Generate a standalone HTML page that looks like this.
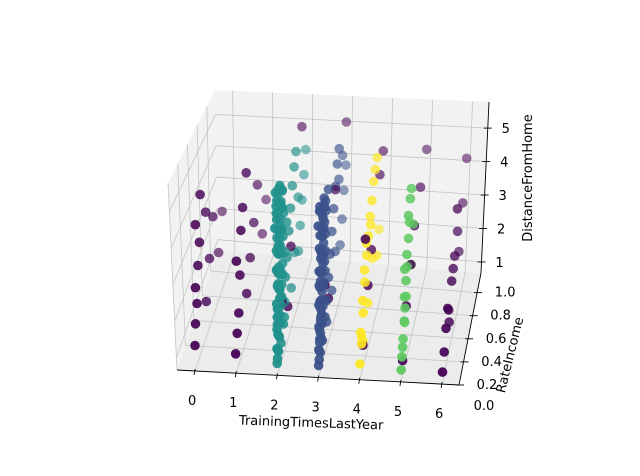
<!DOCTYPE html>
<html><head><meta charset="utf-8"><style>
html,body{margin:0;padding:0;background:#fff;}
svg{display:block;font-family:"DejaVu Sans","Liberation Sans",sans-serif;}
</style></head><body>
<svg id="chart" width="640" height="476" viewBox="0 0 640 476" xmlns="http://www.w3.org/2000/svg">
<g id="panes"></g>
<g id="grid"></g>
<g id="axes"></g>
<g id="pts"></g>
<text x="311" y="427" font-size="13" text-anchor="middle" transform="rotate(2 311 427)">TrainingTimesLastYear</text>
<text x="514" y="356" font-size="13" text-anchor="middle" transform="rotate(-76 514 356)">RateIncome</text>
<text x="532" y="178" font-size="13" text-anchor="middle" transform="rotate(-90 532 178)">DistanceFromHome</text>
</svg>
<script>
const xTicks=[0,1,2,3,4,5,6];
const rTicks=[0.2,0.4,0.6,0.8,1.0];
const rTickLabels=["0.2","0.4","0.6","0.8","1.0"];
const zTicks=[1,2,3,4,5];

const tealR=[0.2,0.22,0.25,0.21,0.27,0.23,0.3,0.26,0.32,0.28,0.35,0.3,0.37,0.33,0.4,0.36,0.24,0.29,0.34,0.38,0.42,0.45,0.5,0.55,0.6,0.65,0.7,0.75,0.8,0.85,0.9,0.95,1.0,0.6,0.7,0.5,0.8,0.45,0.22,0.26,0.31,0.35,0.28,0.25,0.4];
const tealZ=[1.0,1.3,1.6,1.9,2.1,2.4,2.7,2.9,3.2,3.4,3.7,3.9,4.2,4.4,4.7,4.9,5.2,5.4,5.5,1.5,2.0,2.6,3.0,3.6,4.1,4.6,5.0,5.3,2.2,2.8,3.4,4.0,4.6,1.8,2.5,4.0,3.8,3.3,2.2,3.0,1.2,2.3,4.0,4.8,5.2];
const tealR2=[0.21,0.24,0.2,0.27,0.23,0.3,0.22,0.26,0.33,0.25,0.29,0.21,0.35,0.28,0.24,0.31,0.38,0.26,0.22,0.34,0.3,0.27,0.4,0.23,0.32,0.36,0.25,0.29,0.42,0.33,0.2,0.37,0.28,0.24,0.31,0.39,0.26,0.35,0.3,0.22,0.41,0.27,0.34,0.38,0.25,0.32,0.29,0.36,0.23,0.3];
const tealZ2=[1.1,1.2,1.4,1.5,1.7,1.8,2.0,2.1,2.2,2.3,2.5,2.6,2.7,2.8,3.0,3.1,3.2,3.3,3.5,3.6,3.7,3.8,3.9,4.0,4.1,4.2,4.3,4.4,4.5,4.6,4.7,4.8,4.9,5.0,5.1,5.2,5.3,5.4,5.5,1.3,1.6,1.9,2.4,2.9,3.4,3.9,4.4,5.0,5.6,2.0];
const blueR=[0.2,0.23,0.26,0.22,0.28,0.25,0.31,0.27,0.34,0.3,0.36,0.32,0.39,0.35,0.42,0.38,0.45,0.5,0.55,0.6,0.65,0.7,0.75,0.8,0.85,0.9,0.95,1.0,0.24,0.3,0.36,0.28,0.33,0.6,0.7,0.8,0.5,0.45,0.9,0.4];
const blueZ=[1.0,1.3,1.7,2.0,2.3,2.6,2.9,3.1,3.4,3.7,3.9,4.2,4.4,4.6,4.9,5.1,2.0,2.5,3.0,3.5,4.0,4.5,5.0,5.3,2.3,2.9,3.6,4.2,1.5,2.1,2.7,3.3,3.8,1.8,2.6,4.4,5.0,1.4,4.8,3.0];
const blueR2=[0.22,0.25,0.21,0.28,0.24,0.31,0.23,0.27,0.34,0.26,0.3,0.22,0.36,0.29,0.25,0.32,0.39,0.27,0.23,0.35,0.31,0.28,0.41,0.24,0.33,0.37,0.26,0.3,0.43,0.34,0.21,0.38,0.29,0.25,0.32,0.4,0.27,0.36,0.31,0.23,0.42,0.28,0.35,0.39,0.26];
const blueZ2=[1.1,1.2,1.4,1.5,1.6,1.8,1.9,2.1,2.2,2.4,2.5,2.6,2.8,2.9,3.0,3.2,3.3,3.4,3.5,3.6,3.8,3.9,4.0,4.1,4.2,4.3,4.4,4.5,4.6,4.7,4.8,4.9,5.0,5.1,1.3,1.7,2.0,2.3,2.7,3.1,3.5,3.7,4.3,4.8,5.2];
const yellowR=[0.2,0.25,0.22,0.3,0.28,0.35,0.33,0.4,0.45,0.5,0.55,0.6,0.65,0.7,0.75,0.8,0.3,0.45,0.6,0.25,0.38,0.52];
const yellowZ=[1.1,1.5,1.9,2.2,2.6,2.9,3.3,3.5,3.9,4.3,4.6,5.0,5.2,5.4,2.4,3.0,1.4,2.0,2.8,1.7,3.9,4.0];
const greenR=[0.2,0.22,0.25,0.28,0.3,0.27,0.32,0.35,0.33,0.38,0.4,0.36,0.42,0.45,0.3,0.26,0.5,0.55,0.24,0.34];
const greenZ=[1.0,1.3,1.7,2.1,2.4,2.8,3.1,3.4,3.8,4.1,4.5,4.8,5.1,5.3,2.0,3.6,3.0,4.0,1.5,2.6];
const purpleX=[0,0,0,0,0,0,0,0,0,0,0,0,0,0, 1,1,1,1,1,1,1,1,1,1,1,1,1,1, 2,2,2,2, 3,3,3,3, 4,4,4,4,4,4, 5,5,5,5,5,5, 6,6,6,6,6,6,6,6,6,6,6,6,6,6];
const purpleR=[0.22,0.25,0.3,0.28,0.35,0.4,0.33,0.45,0.5,0.6,0.7,0.8,0.9,0.55, 0.2,0.25,0.3,0.35,0.28,0.4,0.45,0.5,0.6,0.7,0.8,0.9,1.0,0.55, 0.35,0.6,0.9,0.5, 0.4,0.7,1.0,0.5, 0.3,0.45,0.55,0.8,0.9,0.35, 0.25,0.35,0.5,0.6,0.8,1.0, 0.2,0.25,0.3,0.35,0.4,0.5,0.6,0.7,0.8,0.9,1.0,0.45,0.55,0.65];
const purpleZ=[1.3,1.8,2.2,2.7,3.1,3.6,4.3,4.8,1.6,2.5,3.4,2.0,2.9,4.0, 1.2,1.6,2.0,2.9,3.5,4.0,4.5,1.9,2.6,3.3,4.1,2.3,3.0,5.2, 2.2,3.0,5.6,1.6, 2.6,4.4,5.5,1.9, 1.3,2.5,3.2,4.6,5.0,4.1, 1.1,2.3,3.0,3.8,4.3,4.8, 1.0,1.4,1.9,2.3,2.1,2.6,3.0,3.4,2.5,3.6,4.6,1.6,2.8,4.2];

const XMIN=-0.44,XMAX=6.41,RMIN=0.2,RMAX=1.17,ZMIN=0.67,ZMAX=5.78;
const FL=[177,370],FR=[459,385],BL=[218,250],BR=[481,273];
const FLt=[168,183],FRt=[466,200],BLt=[215,90],BRt=[489,102];
function bil(a,b,c,d,u,v){
  const x=(a[0]*(1-u)+b[0]*u)*(1-v)+(c[0]*(1-u)+d[0]*u)*v;
  const y=(a[1]*(1-u)+b[1]*u)*(1-v)+(c[1]*(1-u)+d[1]*u)*v;
  return [x,y];
}
function P(x,r,z){
  const u=(x-XMIN)/(XMAX-XMIN),v=(r-RMIN)/(RMAX-RMIN),w=(z-ZMIN)/(ZMAX-ZMIN);
  const b=bil(FL,FR,BL,BR,u,v),t=bil(FLt,FRt,BLt,BRt,u,v);
  return [b[0]+(t[0]-b[0])*w,b[1]+(t[1]-b[1])*w];
}
const NS="http://www.w3.org/2000/svg";
function mk(tag,parent){const e=document.createElementNS(NS,tag);parent.appendChild(e);return e;}
function line(parent,a,b,stroke,sw){
  const l=mk('line',parent);
  l.setAttribute('x1',a[0]);l.setAttribute('y1',a[1]);l.setAttribute('x2',b[0]);l.setAttribute('y2',b[1]);
  l.setAttribute('stroke',stroke);l.setAttribute('stroke-width',sw);
  return l;
}
function poly(parent,pts,fill){
  const p=mk('polygon',parent);
  p.setAttribute('points',pts.map(q=>q.join(',')).join(' '));
  p.setAttribute('fill',fill);
  return p;
}
const panes=document.getElementById('panes');
let pe;
pe=poly(panes,[P(XMIN,RMIN,ZMIN),P(XMAX,RMIN,ZMIN),P(XMAX,RMAX,ZMIN),P(XMIN,RMAX,ZMIN)],'#ececec');


pe=poly(panes,[P(XMIN,RMIN,ZMIN),P(XMIN,RMAX,ZMIN),P(XMIN,RMAX,ZMAX),P(XMIN,RMIN,ZMAX)],'#f2f2f2');


pe=poly(panes,[P(XMIN,RMAX,ZMIN),P(XMAX,RMAX,ZMIN),P(XMAX,RMAX,ZMAX),P(XMIN,RMAX,ZMAX)],'#f2f2f2');



const grid=document.getElementById('grid');
const GC='#c4c4c4';
xTicks.forEach(x=>{
  let g=line(grid,P(x,RMIN,ZMIN),P(x,RMAX,ZMIN),GC,0.8);
  
  
  g=line(grid,P(x,RMAX,ZMIN),P(x,RMAX,ZMAX),GC,0.8);
  
  
});
rTicks.forEach(r=>{
  let g=line(grid,P(XMIN,r,ZMIN),P(XMAX,r,ZMIN),GC,0.8);
  
  
  g=line(grid,P(XMIN,r,ZMIN),P(XMIN,r,ZMAX),GC,0.8);
  
  
});
zTicks.forEach(z=>{
  let g=line(grid,P(XMIN,RMIN,z),P(XMIN,RMAX,z),GC,0.8);
  
  
  g=line(grid,P(XMIN,RMAX,z),P(XMAX,RMAX,z),GC,0.8);
  
  
});

const axes=document.getElementById('axes');
let al;
al=line(axes,P(XMIN,RMIN,ZMIN),P(XMAX,RMIN,ZMIN),'#000',0.9);


al=line(axes,P(XMAX,RMIN,ZMIN),P(XMAX,RMAX,ZMIN),'#000',0.9);


al=line(axes,P(XMAX,RMAX,ZMIN),P(XMAX,RMAX,ZMAX),'#000',0.9);


function label(txt,x,y,anchor,name){
  const t=mk('text',axes);
  t.setAttribute('x',x);t.setAttribute('y',y);t.setAttribute('font-size','13');
  t.setAttribute('text-anchor',anchor);t.setAttribute('fill','#000');
  
  
  t.textContent=txt;
}
xTicks.forEach(x=>{
  const a=P(x,RMIN,ZMIN);
  const tk=line(axes,[a[0],a[1]-2],[a[0]-1,a[1]+4],'#000',0.9);
  
  
  label(String(x),a[0]-3,a[1]+34,'middle','x-tick-label');
});
rTicks.forEach((r,i)=>{
  const a=P(XMAX,r,ZMIN);
  const tk=line(axes,[a[0]-3,a[1]],[a[0]+5,a[1]],'#000',0.9);
  
  
  label(rTickLabels[i],a[0]+28,a[1]+4,'middle','y-tick-label');
});
label("0.0",484,410,'middle','y-tick-label');
zTicks.forEach(z=>{
  const a=P(XMAX,RMAX,z);
  const tk=line(axes,[a[0]-4,a[1]],[a[0]+4,a[1]],'#000',0.9);
  
  
  label(String(z),a[0]+18,a[1]+5,'middle','z-tick-label');
});

const all=[];
function addCluster(xv,rs,zs,color,name){
  for(let i=0;i<rs.length;i++) all.push({x:Array.isArray(xv)?xv[i]:xv,r:rs[i],z:zs[i],c:color,n:name});
}
addCluster(2,tealR,tealZ,'#21918c','teal');
addCluster(2,tealR2,tealZ2,'#21918c','teal');
addCluster(3,blueR,blueZ,'#3b528b','blue');
addCluster(3,blueR2,blueZ2,'#3b528b','blue');
addCluster(4,yellowR,yellowZ,'#fde725','yellow');
addCluster(5,greenR,greenZ,'#5ec962','green');
addCluster(purpleX,purpleR,purpleZ,'#440154','purple');
all.sort((a,b)=>b.r-a.r);
const pts=document.getElementById('pts');
all.forEach(p=>{
  const q=P(p.x,p.r,p.z);
  const v=(p.r-RMIN)/(RMAX-RMIN);
  const c=mk('circle',pts);
  c.setAttribute('cx',q[0].toFixed(1));c.setAttribute('cy',q[1].toFixed(1));
  c.setAttribute('r','4.8');c.setAttribute('fill',p.c);
  c.setAttribute('fill-opacity',(0.95-0.5*v).toFixed(2));
  
  
});
</script>
</body></html>
